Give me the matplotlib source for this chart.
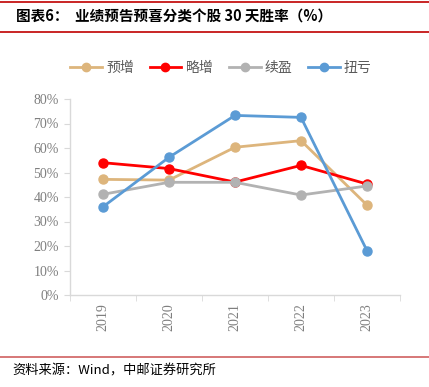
import matplotlib
matplotlib.use("Agg")
import matplotlib.pyplot as plt
from matplotlib.lines import Line2D
import numpy as np

years = ["2019", "2020", "2021", "2022", "2023"]
series_names = ["预增", "略增", "续盈", "扭亏"]
yuzeng = [47.2, 46.9, 60.3, 63.0, 36.7]
luezeng = [54.0, 51.6, 46.1, 52.9, 45.3]
xuying = [41.1, 46.0, 46.0, 40.8, 44.5]
niukui = [36.0, 56.2, 73.3, 72.5, 18.1]
colors = ["#DDB57C", "#FF0000", "#B2B2B2", "#5B9BD5"]
yticks = [0, 10, 20, 30, 40, 50, 60, 70, 80]

plt.rcParams['font.family'] = ['Noto Sans CJK SC', 'DejaVu Sans']

fig = plt.figure(figsize=(4.29, 3.87), dpi=100)
ax = fig.add_axes([70/429, 1-295/387, 330/429, 196/387])

x = np.arange(len(years))
data = [yuzeng, luezeng, xuying, niukui]
handles = []
for name, vals, c in zip(series_names, data, colors):
    ax.plot(x, np.array(vals)/100, color=c, lw=2.0, marker='o', ms=6.5, zorder=3)
    handles.append(Line2D([], [], color=c, lw=2.0, marker='o', ms=6))

ax.set_xlim(-0.5, 4.5)
ax.set_ylim(0, 0.8)
ax.set_yticks([v/100 for v in yticks])
ax.set_yticklabels([f"{v}%" for v in yticks], family='Liberation Serif', fontsize=10, color='#7f7f7f')
ax.set_xticks(x)
ax.set_xticklabels(years, rotation=90, family='Liberation Serif', fontsize=10, color='#7f7f7f')
ax.set_xticks(np.arange(-0.5, 5, 1), minor=True)
ax.tick_params(axis='x', which='major', length=0, pad=6)
ax.tick_params(axis='x', which='minor', length=4, color='#d9d9d9', direction='out')
ax.tick_params(axis='y', length=4, color='#d9d9d9', direction='out', pad=4)
for s in ['top', 'right']:
    ax.spines[s].set_visible(False)
for s in ['left', 'bottom']:
    ax.spines[s].set_color('#d9d9d9')
    ax.spines[s].set_linewidth(1.0)

fig.legend(handles, series_names, loc='center', bbox_to_anchor=(221/429, 1-68/387),
           ncol=4, frameon=False, fontsize=10, handlelength=2.3, columnspacing=1.1,
           handletextpad=0.3, labelcolor='#595959')

# header and footer
fig.add_artist(Line2D([0, 1], [1-2/387, 1-2/387], color='#C00000', lw=1.2))
fig.add_artist(Line2D([0, 1], [1-32/387, 1-32/387], color='#C00000', lw=1.2))
fig.text(16/429, 1-17/387, "图表6：  业绩预告预喜分类个股 30 天胜率（%）", fontsize=10.5,
         fontweight='bold', va='center', ha='left', color='#000000')
fig.add_artist(Line2D([0, 1], [1-357/387, 1-357/387], color='#D06060', lw=1.2))
fig.text(12/429, 1-371/387, "资料来源：Wind，中邮证券研究所", fontsize=9.5,
         va='center', ha='left', color='#000000')

fig.savefig("out.png", dpi=100)
